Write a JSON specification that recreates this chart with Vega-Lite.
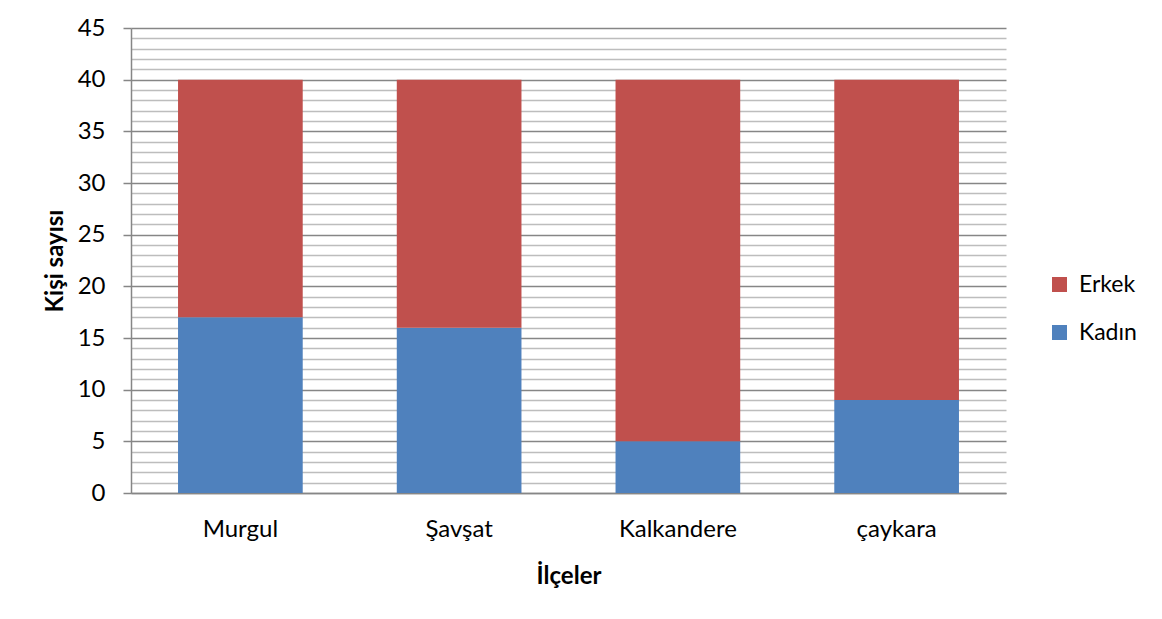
{
  "$schema": "https://vega.github.io/schema/vega-lite/v6.json",
  "width": 875,
  "height": 465,
  "autosize": {"type": "none"},
  "padding": {"left": 131, "top": 28, "right": 156, "bottom": 126},
  "background": "white",
  "config": {
    "font": "Lato",
    "view": {"stroke": null},
    "axis": {"labelFont": "Lato", "titleFont": "Lato", "labelColor": "#000000", "titleColor": "#000000"}
  },
  "data": {
    "values": [
      {"ilce": "Murgul", "cinsiyet": "Kadın", "sayi": 17},
      {"ilce": "Murgul", "cinsiyet": "Erkek", "sayi": 23},
      {"ilce": "Şavşat", "cinsiyet": "Kadın", "sayi": 16},
      {"ilce": "Şavşat", "cinsiyet": "Erkek", "sayi": 24},
      {"ilce": "Kalkandere", "cinsiyet": "Kadın", "sayi": 5},
      {"ilce": "Kalkandere", "cinsiyet": "Erkek", "sayi": 35},
      {"ilce": "çaykara", "cinsiyet": "Kadın", "sayi": 9},
      {"ilce": "çaykara", "cinsiyet": "Erkek", "sayi": 31}
    ]
  },
  "mark": {"type": "bar", "stroke": null},
  "encoding": {
    "x": {
      "field": "ilce",
      "type": "nominal",
      "sort": ["Murgul", "Şavşat", "Kalkandere", "çaykara"],
      "scale": {"paddingInner": 0.43, "paddingOuter": 0.215},
      "axis": {
        "title": "İlçeler",
        "titleFontSize": 24,
        "titleFontWeight": "bold",
        "titlePadding": 23,
        "labelFontSize": 24,
        "labelAngle": 0,
        "labelPadding": 24,
        "ticks": false,
        "domainColor": "#868686",
        "domainWidth": 1.5
      }
    },
    "y": {
      "field": "sayi",
      "type": "quantitative",
      "stack": "zero",
      "scale": {"domain": [0, 45], "nice": false},
      "axis": {
        "title": "Kişi sayısı",
        "titleFontSize": 24,
        "titleFontWeight": "bold",
        "titlePadding": 10,
        "labelFontSize": 24,
        "labelPadding": 18,
        "values": [0,1,2,3,4,5,6,7,8,9,10,11,12,13,14,15,16,17,18,19,20,21,22,23,24,25,26,27,28,29,30,31,32,33,34,35,36,37,38,39,40,41,42,43,44,45],
        "labelExpr": "datum.value % 5 === 0 ? datum.label : ''",
        "grid": true,
        "gridColor": {"condition": {"test": "datum.value % 5 === 0", "value": "#868686"}, "value": "#bdbdbd"},
        "gridWidth": 1.5,
        "tickSize": 8,
        "tickWidth": 1.5,
        "tickColor": {"condition": {"test": "datum.value % 5 === 0", "value": "#868686"}, "value": "transparent"},
        "domainColor": "#868686",
        "domainWidth": 1.5
      }
    },
    "color": {
      "field": "cinsiyet",
      "type": "nominal",
      "scale": {"domain": ["Erkek", "Kadın"], "range": ["#C0504D", "#4F81BD"]},
      "legend": {
        "title": null,
        "orient": "none",
        "legendX": 917,
        "legendY": 245,
        "symbolType": "square",
        "symbolSize": 225,
        "symbolStrokeWidth": 0,
        "labelFontSize": 23,
        "labelFont": "Lato",
        "labelColor": "#000000",
        "rowPadding": 24,
        "labelOffset": 8
      }
    },
    "order": {"field": "cinsiyet", "sort": "descending"}
  }
}
